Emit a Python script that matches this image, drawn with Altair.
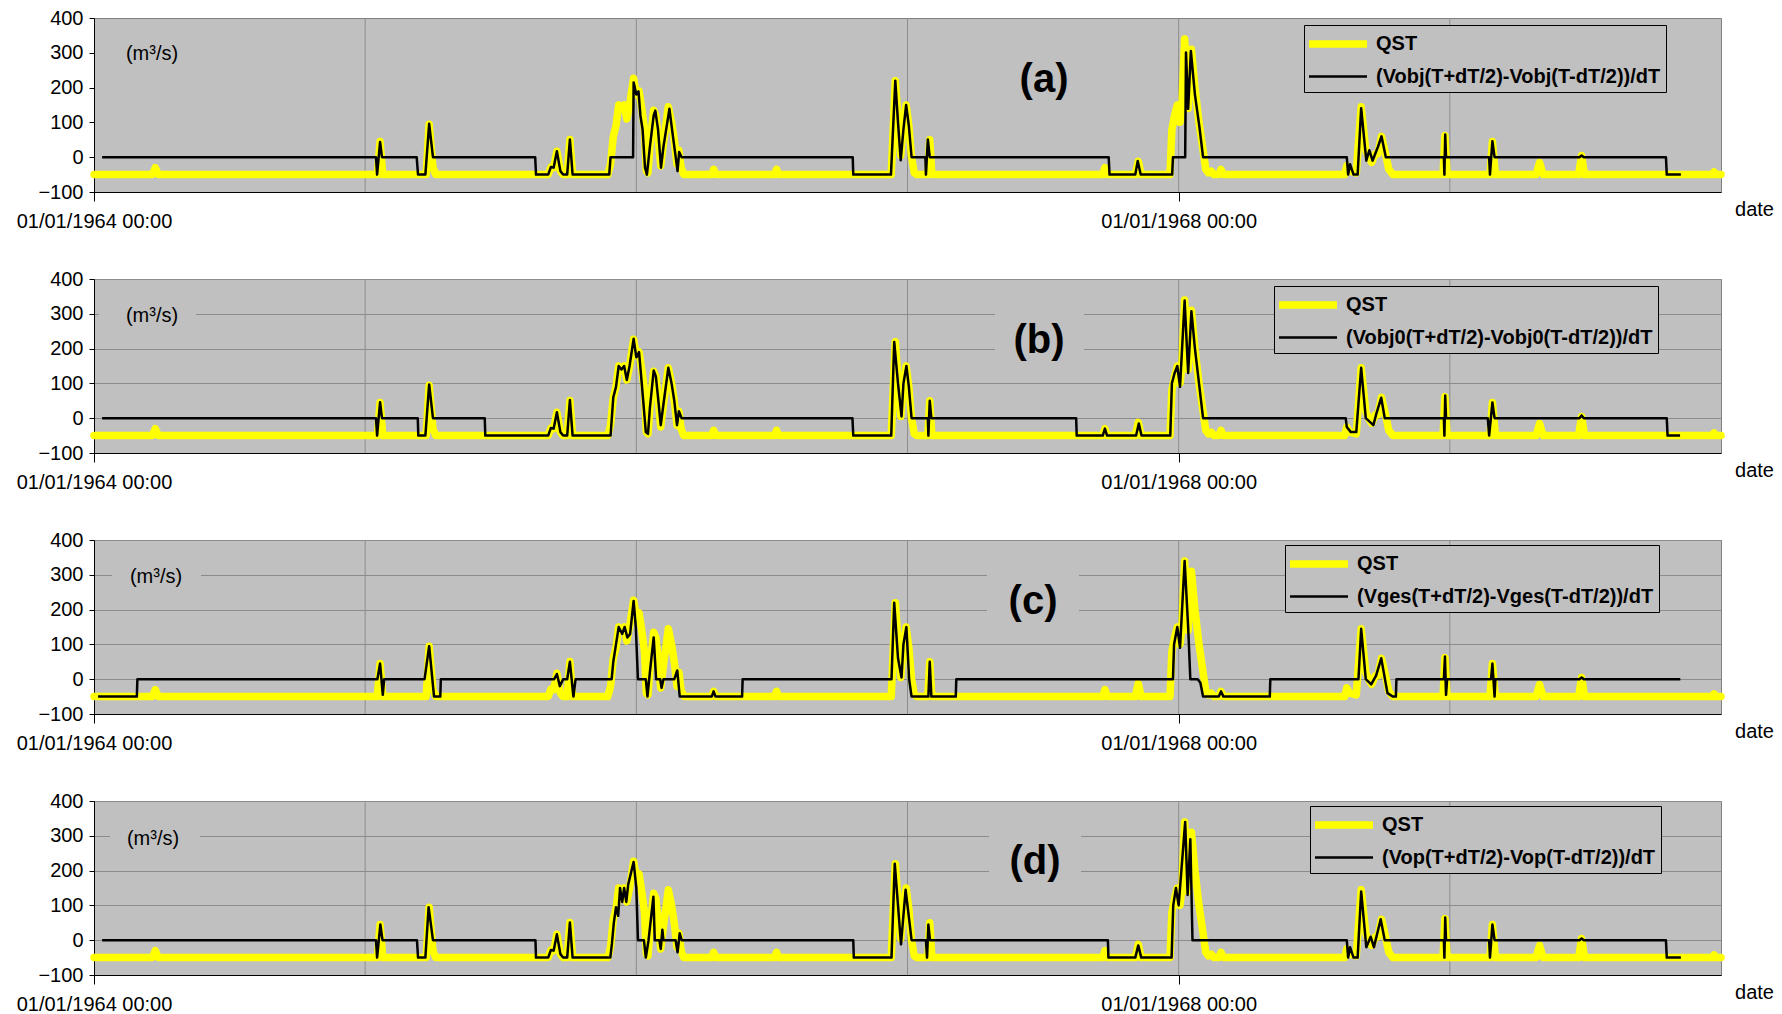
import altair as alt
import pandas as pd

# ---------------- data (time = years after 01/01/1964) ----------------
qst_t = [0.0, 0.215, 0.226, 0.237, 1.045, 1.055, 1.065, 1.225, 1.236, 1.25, 1.26,
         1.675, 1.685, 1.695, 1.707, 1.72, 1.73, 1.745, 1.755, 1.765,
         1.895, 1.905, 1.915, 1.925, 1.935, 1.945, 1.955, 1.965, 1.975, 1.99, 2.0, 2.01, 2.02, 2.03,
         2.037, 2.043, 2.05, 2.064, 2.072, 2.08, 2.09, 2.1, 2.118, 2.13, 2.14, 2.15, 2.157, 2.165, 2.175,
         2.278, 2.285, 2.292, 2.51, 2.517, 2.524,
         2.94, 2.955, 2.966, 2.975, 2.985, 2.995, 3.005, 3.015, 3.025, 3.035, 3.075, 3.082, 3.09,
         3.72, 3.728, 3.736, 3.84, 3.851, 3.862,
         3.968, 3.975, 3.985, 3.995, 4.005, 4.012, 4.022, 4.035, 4.047, 4.06, 4.075, 4.09, 4.1, 4.11, 4.12, 4.13,
         4.148, 4.156, 4.165,
         4.612, 4.62, 4.63, 4.655, 4.673, 4.69, 4.70, 4.712, 4.725, 4.735, 4.748, 4.76, 4.775, 4.79,
         4.975, 4.982, 4.99, 5.148, 5.157, 5.168, 5.318, 5.331, 5.344, 5.475, 5.486, 5.497,
         5.968, 5.974, 5.98, 6.0]
qst_v = [-50, -50, -30, -50, -50, 45, -50, -50, 95, -30, -50,
         -50, -28, -30, 17, -40, -50, -50, 51, -50,
         -50, -20, 60, 90, 150, 140, 150, 110, 150, 227, 180, 190, 140, 80,
         -40, -45, 30, 135, 120, 60, -25, 40, 145, 100, 50, -20, 20, -30, -50,
         -50, -35, -50, -50, -35, -50,
         -50, 220, 100, 5, 100, 150, 90, 0, -45, -50, -50, 50, -50,
         -50, -30, -50, -50, -12, -50,
         -50, 80, 120, 150, 100, 150, 340, 140, 310, 200, 100, 20, -35, -45, -40, -50,
         -50, -35, -50,
         -50, -25, -40, -45, 145, 20, 0, -15, 10, 10, 60, 20, -35, -50,
         -50, 62, -50, -50, 45, -50, -50, -15, -50, -50, 5, -50,
         -50, -42, -50, -50]

a_t = [0.03, 1.040, 1.044, 1.055, 1.062, 1.190, 1.195, 1.222, 1.236, 1.25, 1.627, 1.63,
       1.675, 1.685, 1.695, 1.707, 1.72, 1.73, 1.745, 1.755, 1.765, 1.90, 1.905, 1.988,
       1.99, 2.0, 2.008, 2.015, 2.023, 2.032, 2.039, 2.05, 2.064, 2.07, 2.08, 2.091, 2.1,
       2.122, 2.135, 2.152, 2.158, 2.167, 2.798, 2.8, 2.939, 2.955, 2.965, 2.975, 2.985,
       2.995, 3.005, 3.015, 3.066, 3.068, 3.075, 3.082, 3.742, 3.745, 3.84, 3.849, 3.86,
       3.976, 3.979, 4.024, 4.027, 4.035, 4.045, 4.06, 4.076, 4.09, 4.62, 4.625, 4.632,
       4.645, 4.66, 4.673, 4.692, 4.703, 4.715, 4.735, 4.748, 4.764, 4.978, 4.98, 4.983,
       4.986, 5.145, 5.148, 5.157, 5.165, 5.478, 5.486, 5.494, 5.797, 5.8, 5.852]
a_v = [0, 0, -50, 44, 0, 0, -50, -50, 96, 0, 0, -50,
       -50, -28, -30, 17, -40, -50, -50, 51, -50, -50, 0, 0,
       215, 180, 189, 120, 80, -30, -50, 30, 120, 134, 80, -30, 30,
       139, 60, -40, 15, 0, 0, -50, -50, 220, 100, -9, 80,
       150, 90, 0, 0, -50, 51, 0, 0, -50, -50, -11, -50,
       -50, 0, 0, 301, 139, 305, 180, 90, 0, 0, -50, -20,
       -50, -50, 141, -10, 20, -10, 30, 60, 0, 0, -50, 65,
       0, 0, -50, 46, 0, 0, 5, 0, 0, -50, -50]

b_t = [0.03, 1.040, 1.044, 1.055, 1.062, 1.194, 1.196, 1.222, 1.236, 1.25, 1.441, 1.443,
       1.675, 1.685, 1.695, 1.707, 1.72, 1.73, 1.745, 1.755, 1.765, 1.905, 1.915, 1.925,
       1.935, 1.945, 1.955, 1.965, 1.975, 1.99, 2.0, 2.01, 2.02, 2.035, 2.043, 2.05, 2.064,
       2.072, 2.08, 2.09, 2.1, 2.118, 2.13, 2.14, 2.15, 2.157, 2.167, 2.797, 2.8, 2.94,
       2.951, 2.965, 2.978, 2.985, 2.996, 3.005, 3.015, 3.075, 3.077, 3.082, 3.088, 3.622,
       3.624, 3.72, 3.728, 3.736, 3.843, 3.853, 3.863, 3.969, 3.975, 3.985, 3.995, 4.005,
       4.022, 4.035, 4.047, 4.06, 4.075, 4.09, 4.616, 4.62, 4.635, 4.655, 4.673, 4.69,
       4.718, 4.728, 4.747, 4.76, 4.978, 4.98, 4.983, 4.986, 5.14, 5.145, 5.157, 5.165,
       5.478, 5.486, 5.494, 5.8, 5.803, 5.849]
b_v = [0, 0, -50, 46, 0, 0, -50, -50, 97, 0, 0, -50,
       -50, -28, -30, 17, -40, -50, -50, 52, -50, -50, 60, 90,
       150, 140, 150, 110, 150, 228, 175, 190, 100, -40, -45, 30, 137,
       120, 60, -20, 40, 145, 100, 50, -20, 20, 0, 0, -50, -50,
       219, 100, 5, 100, 150, 90, 0, 0, -50, 50, 0, 0,
       -50, -50, -30, -50, -50, -15, -50, -50, 100, 130, 150, 90,
       338, 130, 307, 200, 100, 0, 0, -25, -40, -40, 145, 0,
       -20, 10, 59, 0, 0, -50, 65, 0, 0, -50, 45, 0,
       0, 8, 0, 0, -50, -50]

c_t = [0.015, 0.158, 0.16, 1.045, 1.055, 1.065, 1.07, 1.219, 1.236, 1.254, 1.277, 1.279,
       1.697, 1.707, 1.718, 1.73, 1.745, 1.755, 1.768, 1.776, 1.909, 1.915, 1.923, 1.935,
       1.948, 1.957, 1.967, 1.977, 1.99, 1.998, 2.006, 2.035, 2.041, 2.05, 2.064, 2.073,
       2.088, 2.093, 2.1, 2.14, 2.151, 2.16, 2.278, 2.285, 2.292, 2.39, 2.392, 2.941,
       2.951, 2.965, 2.978, 2.985, 2.996, 3.006, 3.015, 3.077, 3.082, 3.088, 3.178, 3.18,
       3.979, 3.983, 3.995, 4.005, 4.022, 4.035, 4.043, 4.07, 4.08, 4.09, 4.148, 4.156,
       4.165, 4.336, 4.338, 4.663, 4.673, 4.69, 4.71, 4.728, 4.747, 4.77, 4.79, 4.801,
       4.803, 4.978, 4.982, 4.986, 4.99, 5.152, 5.157, 5.165, 5.168, 5.478, 5.486, 5.494, 5.85]
c_v = [-50, -50, 0, 0, 45, -45, 0, 0, 95, -50, -50, 0,
       0, 15, -20, 0, 0, 50, -50, 0, 0, 50, 90, 150,
       130, 150, 120, 130, 225, 150, 0, 0, -50, 20, 120, 0,
       0, -25, 0, 0, 25, -50, -50, -35, -50, -50, 0, 0,
       220, 60, 5, 100, 150, 0, -50, -50, 50, -50, -50, 0,
       0, 100, 150, 90, 340, 150, 0, 0, -10, -50, -50, -35,
       -50, -50, 0, 0, 145, 0, -15, 10, 60, -40, -50, -50,
       0, 0, 65, -45, 0, 0, 45, -50, 0, 0, 5, 0, 0]

d_t = [0.03, 1.04, 1.044, 1.056, 1.064, 1.191, 1.195, 1.222, 1.234, 1.25, 1.628, 1.63,
       1.675, 1.685, 1.695, 1.707, 1.72, 1.73, 1.745, 1.755, 1.765, 1.904, 1.91, 1.917,
       1.925, 1.933, 1.94, 1.948, 1.955, 1.963, 1.97, 1.99, 2.0, 2.006, 2.028, 2.035,
       2.045, 2.063, 2.068, 2.085, 2.09, 2.096, 2.1, 2.145, 2.152, 2.16, 2.167, 2.8,
       2.802, 2.941, 2.953, 2.965, 2.976, 2.993, 3.003, 3.015, 3.068, 3.072, 3.077, 3.083,
       3.739, 3.741, 3.84, 3.851, 3.862, 3.974, 3.98, 3.99, 4.0, 4.024, 4.033, 4.043,
       4.051, 4.62, 4.625, 4.632, 4.645, 4.66, 4.673, 4.692, 4.708, 4.72, 4.745, 4.76,
       4.978, 4.98, 4.983, 4.986, 5.145, 5.148, 5.157, 5.165, 5.478, 5.486, 5.494, 5.797,
       5.8, 5.852]
d_v = [0, 0, -50, 45, 0, 0, -50, -50, 95, 0, 0, -50,
       -50, -28, -30, 17, -40, -50, -50, 51, -50, -50, -10, 50,
       95, 70, 150, 110, 150, 110, 160, 225, 150, 0, 0, -50,
       0, 125, 0, 0, -25, 30, 0, 0, -35, 20, 0, 0,
       -50, -50, 220, 100, -12, 145, 80, 0, 0, -50, 45, 0,
       0, -50, -50, -15, -50, -50, 100, 150, 100, 340, 130, 290,
       0, 0, -50, -20, -50, -50, 140, -20, 10, -20, 60, 0,
       0, -50, 65, 0, 0, -50, 45, 0, 0, 5, 0, 0,
       -50, -50]

series_qst = "QST"
series_names = ["(Vobj(T+dT/2)-Vobj(T-dT/2))/dT",
                "(Vobj0(T+dT/2)-Vobj0(T-dT/2))/dT",
                "(Vges(T+dT/2)-Vges(T-dT/2))/dT",
                "(Vop(T+dT/2)-Vop(T-dT/2))/dT"]
panel_tags = ["(a)", "(b)", "(c)", "(d)"]
unit_text = "(m\u00b3/s)"
start_year = 1964
grid_years = [1965, 1966, 1967, 1968, 1969]
tick_years = [1964, 1968]
tick_labels = ["01/01/1964 00:00", "01/01/1968 00:00"]
y_ticks = [-100, 0, 100, 200, 300, 400]

# ---------------- layout / style ----------------
W, H = 1627, 174
BG = "#C0C0C0"
FONT = "Liberation Sans"
legend_pos = [(1210, 7), (1180, 7), (1191, 5), (1216, 5)]
tag_pos = [(950, 62), (945, 62), (939, 62), (941, 61)]
unit_pos = [(58, 36), (58, 37), (62, 37), (59, 38)]
unit_box = [(5, 102), (5, 102), (18, 107), (16, 106)]
tag_box = [(901, 990), (901, 990), (893, 985), (895, 987)]
show_ygrid = [False, True, True, True]

label_expr = " : ".join(
    [f"datum.value == {y} ? '{l}'" for y, l in zip(tick_years, tick_labels)]) + " : ''"


def panel(i, bt, bv):
    name = series_names[i]
    domain = [series_qst, name]
    dq = pd.DataFrame({"year": [start_year + t for t in qst_t], "value": qst_v,
                       "series": series_qst, "idx": range(len(qst_t))})
    db = pd.DataFrame({"year": [start_year + t for t in bt], "value": bv,
                       "series": name, "idx": range(len(bt))})

    xs = alt.Scale(domain=[1964, 1970], nice=False, zero=False)
    ys = alt.Scale(domain=[-100, 400], nice=False, zero=False)
    x = alt.X("year:Q", scale=xs, axis=alt.Axis(
        values=tick_years, labelExpr=label_expr, grid=False, tickSize=9,
        tickColor="#000000", domainColor="#000000", labelPadding=10,
        labelFontSize=20, labelFont=FONT, labelColor="#000000", labelFlush=False,
        labelOverlap=False, title="date", titleX=1660, titleY=7,
        titleBaseline="top", titleFontSize=20, titleFontWeight="normal",
        titleFont=FONT, titleColor="#000000", titleAlign="center"))
    y = alt.Y("value:Q", scale=ys, axis=alt.Axis(
        values=y_ticks, grid=show_ygrid[i], gridColor="#8C8C8C", gridWidth=1,
        title=None, tickSize=5, tickColor="#000000", domainColor="#000000",
        labelFontSize=20, labelFont=FONT, labelColor="#000000", labelPadding=6,
        format="d"))
    leg = alt.Legend(
        orient="none", legendX=legend_pos[i][0], legendY=legend_pos[i][1],
        title=None, labelFontSize=20, labelFontWeight="bold", labelFont=FONT,
        labelColor="#000000", labelLimit=500, labelOffset=39,
        symbolType="M-1.4,0H4.4", symbolSize=400, rowPadding=6, padding=5,
        strokeColor="#000000", fillColor=BG, cornerRadius=0)
    color = alt.Color("series:N", scale=alt.Scale(domain=domain, range=["#FFFF00", "#000000"]),
                      legend=leg)
    sw = alt.StrokeWidth("series:N", scale=alt.Scale(domain=domain, range=[7.5, 2.5]),
                         legend=leg)

    grid = alt.Chart(pd.DataFrame({"year": grid_years})).mark_rule(
        color="#8C8C8C", strokeWidth=1).encode(x=alt.X("year:Q", scale=xs))
    lq = alt.Chart(dq).mark_line(strokeJoin="round", strokeCap="round").encode(
        x=x, y=y, color=color, strokeWidth=sw, order="idx:Q")
    lb = alt.Chart(db).mark_line(strokeJoin="round").encode(
        x=x, y=y, color=color, strokeWidth=sw, order="idx:Q")

    one = pd.DataFrame({"k": [0]})
    box1 = alt.Chart(one).mark_rect(color=BG).encode(
        x=alt.value(unit_box[i][0]), x2=alt.value(unit_box[i][1]),
        y=alt.value(22), y2=alt.value(52))
    box2 = alt.Chart(one).mark_rect(color=BG).encode(
        x=alt.value(tag_box[i][0]), x2=alt.value(tag_box[i][1]),
        y=alt.value(30), y2=alt.value(95))
    unit = alt.Chart(one).mark_text(fontSize=20, font=FONT, color="#000000").encode(
        x=alt.value(unit_pos[i][0]), y=alt.value(unit_pos[i][1]), text=alt.value(unit_text))
    tag = alt.Chart(one).mark_text(fontSize=40, fontWeight="bold", font=FONT,
                                   color="#000000").encode(
        x=alt.value(tag_pos[i][0]), y=alt.value(tag_pos[i][1]), text=alt.value(panel_tags[i]))

    return alt.layer(grid, box1, box2, lq, lb, unit, tag).properties(width=W, height=H)


panels = [panel(0, a_t, a_v), panel(1, b_t, b_v), panel(2, c_t, c_v), panel(3, d_t, d_v)]

chart = alt.vconcat(*panels, spacing=87).resolve_scale(
    color="independent", strokeWidth="independent"
).resolve_legend(color="independent", strokeWidth="independent").properties(
    bounds="flush", padding={"left": 15, "top": 7, "right": 4, "bottom": 0}
).configure(font=FONT, background="#FFFFFF").configure_view(
    fill=BG, stroke="#808080", strokeWidth=1)

chart.save("out.html", embed_options={"renderer": "svg", "actions": False})
